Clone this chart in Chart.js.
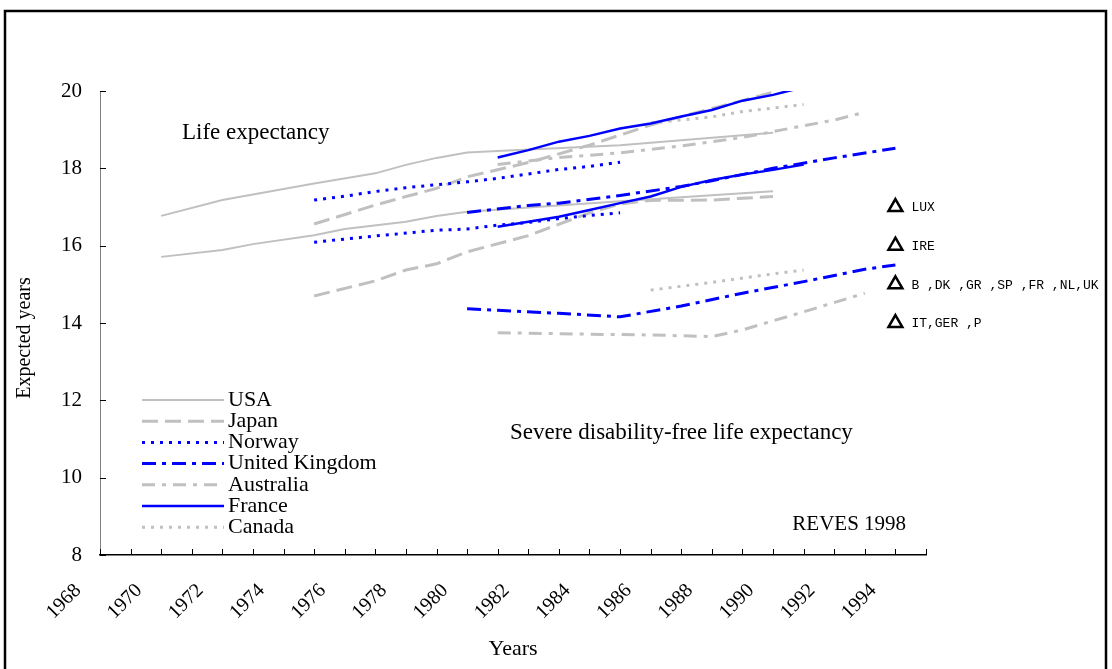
<!DOCTYPE html>
<html>
<head>
<meta charset="utf-8">
<script src="https://cdn.jsdelivr.net/npm/chart.js@4/dist/chart.umd.min.js"></script>
<style>
  html, body { margin: 0; padding: 0; background: #fff; }
  canvas { display: block; }
</style>
</head>
<body>
<canvas id="chart" width="1112" height="669"></canvas>
<script>
// Pays, dans l'ordre de la légende
const countries = ['USA', 'Japan', 'Norway', 'United Kingdom', 'Australia', 'France', 'Canada'];

// Espérance de vie (haut du graphique) : années + valeurs
const usaLeYears = [1970, 1972, 1975, 1977, 1978, 1979, 1980, 1981, 1985, 1990];
const usaLe      = [16.77, 17.18, 17.61, 17.87, 18.09, 18.27, 18.41, 18.45, 18.6, 18.92];
const japanLeYears = [1975, 1977, 1978, 1979, 1980, 1982, 1984, 1986, 1988, 1989, 1990];
const japanLe      = [16.56, 17.05, 17.27, 17.48, 17.78, 18.15, 18.6, 19.12, 19.55, 19.75, 19.97];
const norwayLeYears = [1975, 1976, 1977, 1978, 1980, 1981, 1983, 1984, 1985];
const norwayLe      = [17.18, 17.28, 17.4, 17.5, 17.65, 17.74, 17.97, 18.05, 18.16];
const ukLeYears = [1980, 1982, 1983, 1985, 1987, 1988, 1990, 1992, 1994];
const ukLe      = [16.86, 17.04, 17.1, 17.3, 17.53, 17.68, 18.0, 18.27, 18.52];
const australiaLeYears = [1981, 1983, 1985, 1987, 1989, 1990, 1992, 1993];
const australiaLe      = [18.1, 18.28, 18.4, 18.58, 18.8, 18.95, 19.25, 19.45];
const franceLeYears = [1981, 1982, 1983, 1984, 1985, 1986, 1987, 1988, 1989, 1990, 1991];
const franceLe      = [18.28, 18.47, 18.69, 18.84, 19.03, 19.16, 19.34, 19.51, 19.75, 19.9, 20.1];
const canadaLeYears = [1986, 1988, 1989, 1991];
const canadaLe      = [19.17, 19.33, 19.47, 19.65];

// Espérance de vie sans incapacité sévère (bas du graphique)
const usaDfleYears = [1970, 1972, 1973, 1975, 1976, 1978, 1979, 1980, 1985, 1990];
const usaDfle      = [15.71, 15.89, 16.04, 16.27, 16.43, 16.62, 16.77, 16.88, 17.15, 17.41];
const japanDfleYears = [1975, 1977, 1978, 1979, 1980, 1982, 1984, 1985, 1986, 1988, 1990];
const japanDfle      = [14.7, 15.09, 15.37, 15.53, 15.84, 16.26, 16.85, 17.08, 17.17, 17.18, 17.27];
const norwayDfleYears = [1975, 1976, 1977, 1979, 1980, 1981, 1982, 1983, 1984, 1985];
const norwayDfle      = [16.09, 16.17, 16.25, 16.4, 16.43, 16.53, 16.6, 16.7, 16.78, 16.85];
const ukDfleYears = [1980, 1981, 1983, 1985, 1987, 1989, 1991, 1993, 1994];
const ukDfle      = [14.37, 14.33, 14.25, 14.16, 14.44, 14.77, 15.07, 15.39, 15.5];
const australiaDfleYears = [1981, 1984, 1986, 1988, 1989, 1991, 1993];
const australiaDfle      = [13.75, 13.71, 13.69, 13.65, 13.82, 14.29, 14.77];
const franceDfleYears = [1981, 1982, 1983, 1984, 1985, 1986, 1987, 1988, 1989, 1990, 1991];
const franceDfle      = [16.49, 16.62, 16.75, 16.92, 17.1, 17.27, 17.52, 17.7, 17.84, 17.96, 18.1];
const canadaDfleYears = [1986, 1988, 1990, 1991];
const canadaDfle      = [14.85, 15.05, 15.27, 15.37];

// Repères (triangles) pour les pays européens
const markerYears  = [1994, 1994, 1994, 1994];
const markerValues = [17, 16, 15, 14];
const markerLabels = ['LUX', 'IRE', 'B ,DK ,GR ,SP ,FR ,NL,UK', 'IT,GER ,P'];

// Axes
const yearMin = 1968, yearMax = 1995;
const valueMin = 8, valueMax = 20, valueStep = 2;

// Styles des traits
const grey = '#c0c0c0';
const blue = '#0000ff';
const look = {
  'USA':            { color: grey, dash: [], width: 2, order: 2 },
  'Japan':          { color: grey, dash: [16, 7], width: 3, order: 2 },
  'Norway':         { color: blue, dash: [3, 6], width: 3, order: 1 },
  'United Kingdom': { color: blue, dash: [14, 6, 4, 6], width: 3, order: 1 },
  'Australia':      { color: grey, dash: [13, 7, 4, 7], width: 3, order: 2 },
  'France':         { color: blue, dash: [], width: 2.5, order: 1 },
  'Canada':         { color: grey, dash: [3, 6], width: 3, order: 2 }
};

const series = {
  'USA':            [[usaLeYears, usaLe], [usaDfleYears, usaDfle]],
  'Japan':          [[japanLeYears, japanLe], [japanDfleYears, japanDfle]],
  'Norway':         [[norwayLeYears, norwayLe], [norwayDfleYears, norwayDfle]],
  'United Kingdom': [[ukLeYears, ukLe], [ukDfleYears, ukDfle]],
  'Australia':      [[australiaLeYears, australiaLe], [australiaDfleYears, australiaDfle]],
  'France':         [[franceLeYears, franceLe], [franceDfleYears, franceDfle]],
  'Canada':         [[canadaLeYears, canadaLe], [canadaDfleYears, canadaDfle]]
};

function pts(xs, ys) {
  return xs.map((x, i) => ({ x: x, y: ys[i] }));
}

const serif = 'Liberation Serif, Times New Roman, serif';

let datasets = [];
for (let i = 0; i < countries.length; i++) {
  const c = countries[i];
  const st = look[c];
  series[c].forEach(function (s) {
    datasets.push({
      label: c,
      data: pts(s[0], s[1]),
      showLine: true,
      borderColor: st.color,
      backgroundColor: st.color,
      borderWidth: st.width,
      borderDash: st.dash,
      pointRadius: 0,
      tension: 0,
      order: st.order
    });
  });
}

datasets.push({
  label: 'markers',
  data: pts(markerYears, markerValues),
  showLine: false,
  pointStyle: 'triangle',
  pointRadius: 8,
  borderColor: '#000',
  borderWidth: 2.5,
  backgroundColor: 'rgba(0,0,0,0)',
  order: 0
});

// Textes, légende, petites graduations, cadre
const decorations = {
  id: 'decorations',
  afterDraw(chart) {
    const ctx = chart.ctx;
    const xs = chart.scales.x, ys = chart.scales.y;
    const area = chart.chartArea;
    ctx.save();

    // graduations vers l'intérieur
    ctx.strokeStyle = '#000';
    ctx.lineWidth = 1;
    xs.ticks.forEach(function (t) {
      const px = Math.round(xs.getPixelForValue(t.value)) + 0.5;
      ctx.beginPath(); ctx.moveTo(px, area.bottom); ctx.lineTo(px, area.bottom - 6); ctx.stroke();
    });
    ys.ticks.forEach(function (t) {
      const py = Math.round(ys.getPixelForValue(t.value)) + 0.5;
      ctx.beginPath(); ctx.moveTo(area.left, py); ctx.lineTo(area.left + 6, py); ctx.stroke();
    });

    // titre de l'axe vertical
    ctx.fillStyle = '#000';
    ctx.textBaseline = 'middle';
    ctx.textAlign = 'center';
    ctx.font = '20px ' + serif;
    ctx.save();
    ctx.translate(25, 338);
    ctx.rotate(-Math.PI / 2);
    ctx.fillText('Expected years', 0, 0);
    ctx.restore();

    // annotations
    ctx.textAlign = 'left';
    ctx.font = '23px ' + serif;
    ctx.fillText('Life expectancy', xs.getPixelForValue(1970.68), ys.getPixelForValue(18.91));
    ctx.fillText('Severe disability-free life expectancy', xs.getPixelForValue(1981.4), ys.getPixelForValue(11.15));
    ctx.font = '21px ' + serif;
    ctx.fillText('REVES 1998', xs.getPixelForValue(1990.63), ys.getPixelForValue(8.8));

    // étiquettes des triangles
    ctx.font = '13px Liberation Mono, monospace';
    const meta = chart.getDatasetMeta(chart.data.datasets.length - 1);
    meta.data.forEach(function (p, i) {
      ctx.fillText(markerLabels[i], p.x + 16, p.y + 1);
    });

    // légende
    ctx.font = '22px ' + serif;
    for (let i = 0; i < countries.length; i++) {
      const st = look[countries[i]];
      const y = 400 + i * 21.2;
      ctx.strokeStyle = st.color;
      ctx.lineWidth = st.width;
      ctx.setLineDash(st.dash);
      ctx.beginPath(); ctx.moveTo(142, y); ctx.lineTo(224, y); ctx.stroke();
      ctx.setLineDash([]);
      ctx.fillText(countries[i], 228, y);
    }

    // cadre
    ctx.strokeStyle = '#000';
    ctx.lineWidth = 2.5;
    ctx.strokeRect(5, 11, 1101, 700);
    ctx.restore();
  }
};

const config = {
  type: 'scatter',
  data: { datasets: datasets },
  options: {
    responsive: false,
    animation: false,
    devicePixelRatio: 1,
    layout: { padding: { left: 0, top: 91, right: 186, bottom: 0 } },
    plugins: { legend: { display: false }, tooltip: { enabled: false } },
    scales: {
      x: {
        type: 'linear',
        min: yearMin,
        max: yearMax,
        afterFit: function (s) { s.height = 114; },
        grid: { drawOnChartArea: false, drawTicks: false },
        border: { color: '#000', width: 1.5 },
        ticks: {
          stepSize: 1,
          maxTicksLimit: 100,
          autoSkip: false,
          minRotation: 45,
          maxRotation: 45,
          padding: 24,
          labelOffset: -22,
          color: '#000',
          font: { family: serif, size: 20 },
          callback: function (v) { return (v % 2 === 0 && v < yearMax) ? String(v) : ''; }
        },
        title: { display: true, text: 'Years', color: '#000', font: { family: serif, size: 22 }, padding: { top: 0, bottom: 7 } }
      },
      y: {
        min: valueMin,
        max: valueMax,
        afterFit: function (s) { s.width = 100; },
        grid: { drawOnChartArea: false, drawTicks: false },
        border: { color: '#808080', width: 1 },
        ticks: {
          stepSize: valueStep,
          padding: 18,
          color: '#000',
          font: { family: serif, size: 21 }
        }
      }
    }
  },
  plugins: [decorations]
};

const chart = new Chart(document.getElementById('chart'), config);
</script>
</body>
</html>
